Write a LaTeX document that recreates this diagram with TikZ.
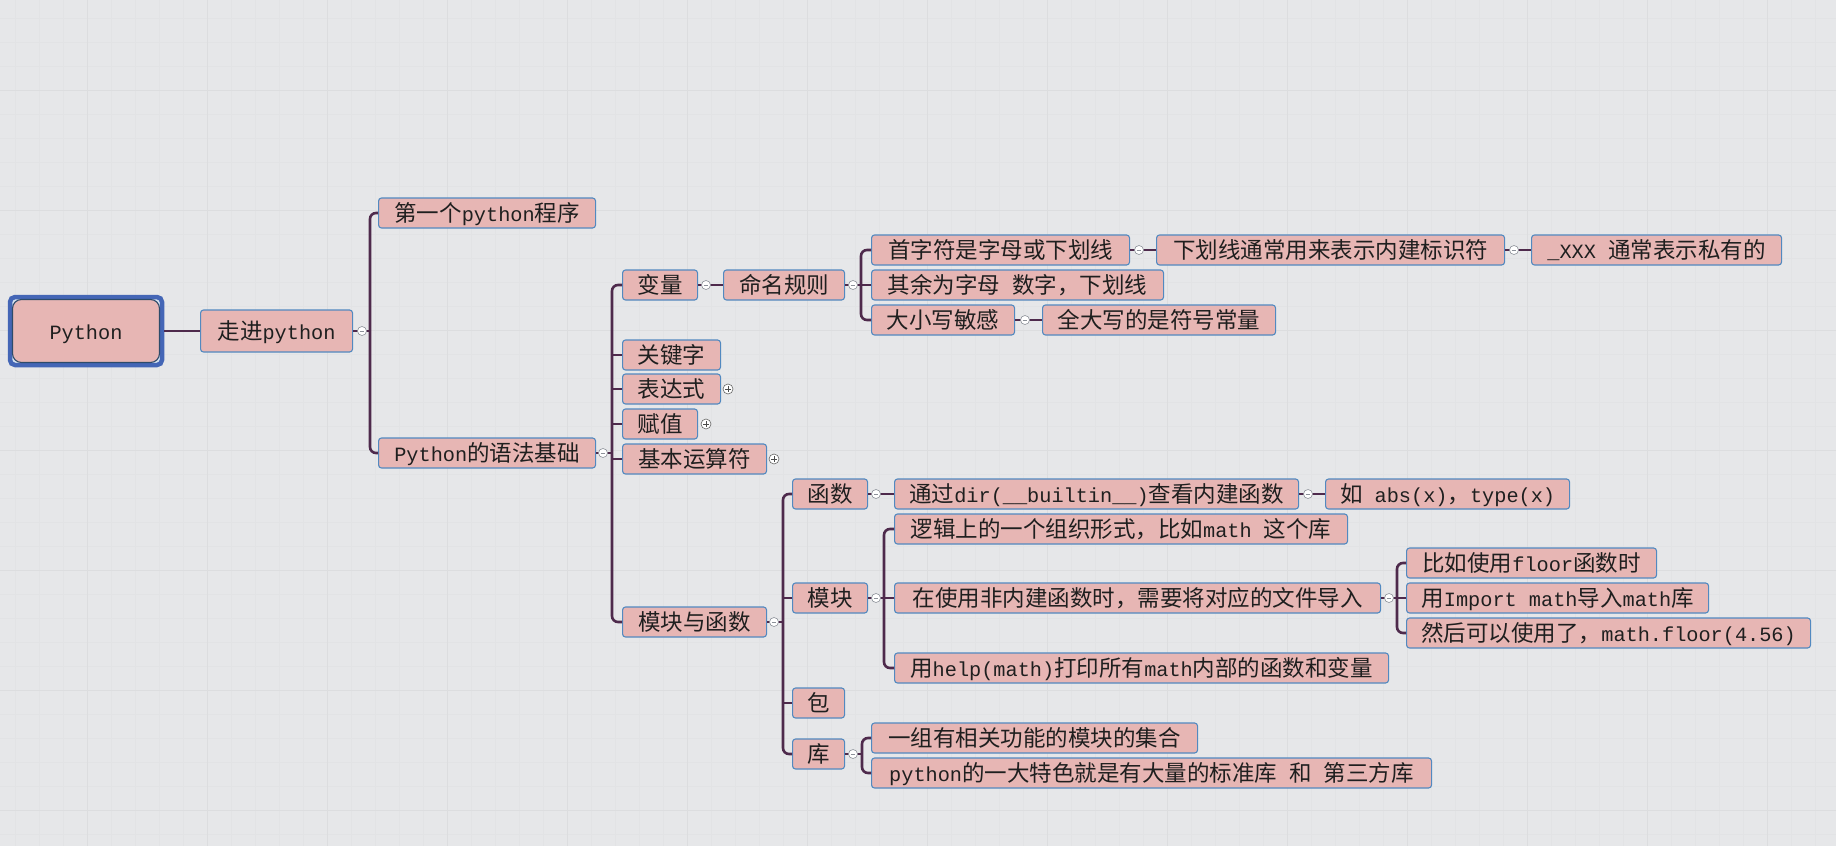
\documentclass[tikz,border=0pt]{standalone}
\usepackage{fontspec}
\setmainfont{Noto Sans CJK SC}
\newfontfamily\latinfont[Scale=0.9]{Liberation Mono}
\usetikzlibrary{positioning}
\definecolor{paper}{HTML}{E6E7E9}
\definecolor{gridminor}{HTML}{E2E3E5}
\definecolor{gridmajor}{HTML}{DCDDDF}
\definecolor{topicfill}{HTML}{E7B6B4}
\definecolor{topicline}{HTML}{5289C0}
\definecolor{branch}{HTML}{4E2A4C}
\definecolor{rootline}{HTML}{4466B6}
\definecolor{rootgap}{HTML}{D5E1EF}
\definecolor{foldline}{HTML}{8C9199}
\newcommand{\asc}[1]{{\latinfont #1}}

\begin{document}
\begin{tikzpicture}[x=1pt, y=-1pt,
    topic/.style={draw=topicline, fill=topicfill, line width=1.1pt, rounded corners=3pt,
        minimum height=30pt, inner xsep=4pt, inner ysep=0pt, text height=20pt, text depth=3pt,
        anchor=west, text=black!88, font=\fontsize{22.5}{26}\selectfont},
    rootbox/.style={topic, anchor=center, draw=black!45!topicline, rounded corners=9pt,
        minimum width=147pt, minimum height=63pt},
    rootframe/.style={draw=rootline, fill=rootgap, line width=4.5pt, rounded corners=5pt,
        minimum width=152pt, minimum height=68pt},
    link/.style={draw=branch, line width=2.6pt},
    foldminus/.style={circle, draw=foldline, fill=white, line width=0.6pt, minimum size=9pt, inner sep=0pt,
        path picture={\draw[foldline, line width=0.8pt] ([xshift=-2.4pt]path picture bounding box.center)
            -- ([xshift=2.4pt]path picture bounding box.center);}},
    foldplus/.style={circle, draw=black!60, fill=white, line width=0.6pt, minimum size=10pt, inner sep=0pt,
        path picture={\draw[black!70, line width=0.7pt] ([xshift=-2.8pt]path picture bounding box.center)
            -- ([xshift=2.8pt]path picture bounding box.center)
            ([yshift=-2.8pt]path picture bounding box.center) -- ([yshift=2.8pt]path picture bounding box.center);}}]
            %Background
            \useasboundingbox (0,0) rectangle (1836,846);
            \fill[paper] (0,0) rectangle (1836,846);
            \foreach \gx in {15,39,...,1836} \draw[gridminor, line width=0.6pt] (\gx,0) -- (\gx,846);
            \foreach \gy in {18,42,...,846} \draw[gridminor, line width=0.6pt] (0,\gy) -- (1836,\gy);
            \foreach \gx in {87,207,...,1836} \draw[gridmajor, line width=0.8pt] (\gx,0) -- (\gx,846);
            \foreach \gy in {90,210,...,846} \draw[gridmajor, line width=0.8pt] (0,\gy) -- (1836,\gy);

            %Nodes
            \node[rootframe] (rootfr) at (86,331) {};
            \node[rootbox] (root) at (86,331) {\asc{Python}};
            \node[topic, minimum width=152, minimum height=42] (zj) at (200,331) {走进\asc{python}};
            \node[topic, minimum width=217] (d1) at (378,213) {第一个\asc{python}程序};
            \node[topic, minimum width=217] (d2) at (378,453) {\asc{Python}的语法基础};

            \node[topic, minimum width=75] (bl) at (622,285) {变量};
            \node[topic, minimum width=121] (mm) at (723,285) {命名规则};
            \node[topic, minimum width=258] (sz) at (871,250) {首字符是字母或下划线};
            \node[topic, minimum width=348] (xh) at (1156,250) {下划线通常用来表示内建标识符};
            \node[topic, minimum width=250] (sy) at (1531,250) {\asc{\_XXX~}通常表示私有的};
            \node[topic, minimum width=292] (qy) at (871,285) {其余为字母\asc{~}数字，下划线};
            \node[topic, minimum width=143] (dx) at (871,320) {大小写敏感};
            \node[topic, minimum width=233] (qd) at (1042,320) {全大写的是符号常量};
            \node[topic, minimum width=98] (gj) at (622,355) {关键字};
            \node[topic, minimum width=98] (bd) at (622,389) {表达式};
            \node[topic, minimum width=75] (fz) at (622,424) {赋值};
            \node[topic, minimum width=144] (ys) at (622,459) {基本运算符};
            \node[topic, minimum width=144] (mk) at (622,622) {模块与函数};

            \node[topic, minimum width=75] (hs) at (792,494) {函数};
            \node[topic, minimum width=404] (dir) at (894,494) {通过\asc{dir(\_\_builtin\_\_)}查看内建函数};
            \node[topic, minimum width=244] (ru) at (1325,494) {如\asc{~abs(x)}，\asc{type(x)}};
            \node[topic, minimum width=75] (mo) at (792,598) {模块};
            \node[topic, minimum width=453] (lj) at (894,529) {逻辑上的一个组织形式，比如\asc{math~}这个库};
            \node[topic, minimum width=486] (zs) at (894,598) {在使用非内建函数时，需要将对应的文件导入};
            \node[topic, minimum width=250] (bf) at (1406,563) {比如使用\asc{floor}函数时};
            \node[topic, minimum width=302] (im) at (1406,598) {用\asc{Import~math}导入\asc{math}库};
            \node[topic, minimum width=404] (rh) at (1406,633) {然后可以使用了，\asc{math.floor(4.56)}};
            \node[topic, minimum width=494] (hp) at (894,668) {用\asc{help(math)}打印所有\asc{math}内部的函数和变量};
            \node[topic, minimum width=52] (bao) at (792,703) {包};
            \node[topic, minimum width=52] (ku) at (792,754) {库};
            \node[topic, minimum width=326] (yz) at (871,738) {一组有相关功能的模块的集合};
            \node[topic, minimum width=560] (ts) at (871,773) {\asc{python}的一大特色就是有大量的标准库\asc{~}和\asc{~}第三方库};

            \coordinate (t1) at (370,331);
            \coordinate (t2) at (612,453);
            \coordinate (t3) at (861,285);
            \coordinate (t4) at (783,622);
            \coordinate (t5) at (884,598);
            \coordinate (t6) at (1397,598);
            \coordinate (t7) at (862,754);

            %Lines
            \draw[link] (rootfr.east) -- (zj.west);
            \draw[link] (zj.east) -- (t1);
            \draw[link, rounded corners=6pt] (d1.west) -| (t1) |- (d2.west);

            \draw[link] (d2.east) -- (t2);
            \draw[link, rounded corners=6pt] (bl.west) -| (t2) |- (mk.west);
            \foreach \n in {gj,bd,fz,ys} \draw[link] (\n.west) -- (\n.west -| t2);

            \draw[link] (bl.east) -- (mm.west);
            \draw[link] (mm.east) -- (t3);
            \draw[link, rounded corners=6pt] (sz.west) -| (t3) |- (dx.west);
            \draw[link] (qy.west) -- (t3);
            \draw[link] (sz.east) -- (xh.west);
            \draw[link] (xh.east) -- (sy.west);
            \draw[link] (dx.east) -- (qd.west);

            \draw[link] (mk.east) -- (t4);
            \draw[link, rounded corners=6pt] (hs.west) -| (t4) |- (ku.west);
            \foreach \n in {mo,bao} \draw[link] (\n.west) -- (\n.west -| t4);
            \draw[link] (hs.east) -- (dir.west);
            \draw[link] (dir.east) -- (ru.west);

            \draw[link] (mo.east) -- (t5);
            \draw[link, rounded corners=6pt] (lj.west) -| (t5) |- (hp.west);
            \draw[link] (zs.west) -- (t5);
            \draw[link] (zs.east) -- (t6);
            \draw[link, rounded corners=6pt] (bf.west) -| (t6) |- (rh.west);
            \draw[link] (im.west) -- (t6);

            \draw[link] (ku.east) -- (t7);
            \draw[link, rounded corners=6pt] (yz.west) -| (t7) |- (ts.west);

            %Fold marks
            \node[foldminus] (zjc) at (362,331) {};
            \node[foldminus] (d2c) at (603,453) {};
            \node[foldminus] (blc) at (706,285) {};
            \node[foldminus] (mmc) at (853,285) {};
            \node[foldminus] (szc) at (1139,250) {};
            \node[foldminus] (xhc) at (1514,250) {};
            \node[foldminus] (dxc) at (1025,320) {};
            \node[foldminus] (mkc) at (774,622) {};
            \node[foldminus] (hsc) at (876,494) {};
            \node[foldminus] (dirc) at (1308,494) {};
            \node[foldminus] (moc) at (876,598) {};
            \node[foldminus] (zsc) at (1389,598) {};
            \node[foldminus] (kuc) at (853,754) {};
            \node[foldplus] (bdc) at (728,389) {};
            \node[foldplus] (fzc) at (706,424) {};
            \node[foldplus] (ysc) at (774,459) {};
        \end{tikzpicture}
\end{document}
